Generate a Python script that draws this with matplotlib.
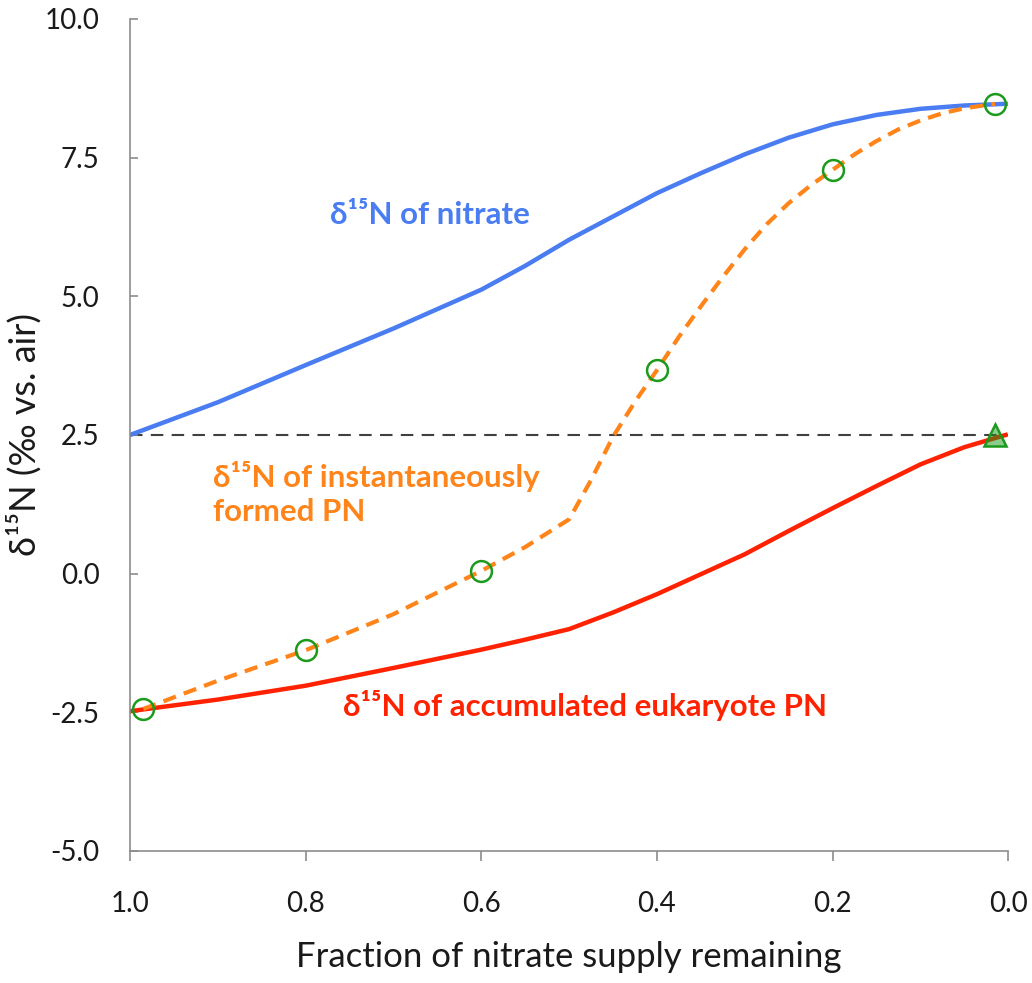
# -*- coding: utf-8 -*-

"""
δ15N 随剩余硝酸盐比例变化图
"""

import matplotlib
matplotlib.use('Agg')
import matplotlib.pyplot as plt
from matplotlib.ticker import FormatStrFormatter

matplotlib.rcParams['font.family'] = ['Lato', 'Open Sans', 'DejaVu Sans']
matplotlib.rcParams['axes.unicode_minus'] = False

# 硝酸盐 δ15N
nitrate_f = [1.0, 0.9, 0.8, 0.7, 0.6, 0.55, 0.5, 0.45, 0.4, 0.35, 0.3,
             0.25, 0.2, 0.15, 0.1, 0.05, 0.003]
nitrate_d = [2.5, 3.09, 3.76, 4.42, 5.12, 5.55, 6.02, 6.44, 6.86, 7.22, 7.56,
             7.86, 8.1, 8.27, 8.38, 8.44, 8.47]

# 瞬时生成 PN
inst_f = [0.985, 0.9, 0.8, 0.7, 0.6, 0.55, 0.5, 0.475, 0.45, 0.425, 0.4,
          0.375, 0.35, 0.325, 0.3, 0.275, 0.25, 0.225, 0.2,
          0.175, 0.15, 0.125, 0.1, 0.075, 0.05, 0.015]
inst_d = [-2.44, -1.93, -1.38, -0.73, 0.05, 0.48, 0.98, 1.69, 2.47, 3.1, 3.67,
          4.27, 4.82, 5.35, 5.85, 6.3, 6.68, 7.0, 7.28,
          7.56, 7.8, 8.01, 8.17, 8.3, 8.39, 8.47]

# 累积真核生物 PN
accum_f = [1.0, 0.9, 0.8, 0.7, 0.6, 0.55, 0.5, 0.45, 0.4, 0.35, 0.3,
           0.25, 0.2, 0.15, 0.1, 0.05, 0.003]
accum_d = [-2.48, -2.27, -2.02, -1.7, -1.37, -1.19, -1.0, -0.7, -0.37, -0.01, 0.35,
           0.77, 1.18, 1.58, 1.97, 2.28, 2.5]

# 样品点
sample_f = [0.985, 0.8, 0.6, 0.4, 0.2, 0.015]
sample_d = [-2.44, -1.38, 0.05, 3.67, 7.28, 8.47]
source_f = [0.015]
source_d = [2.5]

BLUE = '#4a7cf2'
ORANGE = '#ff8419'
RED = '#ff2200'
GREEN = '#1c9a1c'
GRAY = '#8c8c8c'


def main():
    fig = plt.figure(figsize=(10.32, 9.83), dpi=100)
    ax = fig.add_axes([0.126, 0.1343, 0.851, 0.8464])

    ax.axhline(2.5, color='#404040', lw=1.5, dashes=(6, 4), zorder=1)
    ax.plot(nitrate_f, nitrate_d, color=BLUE, lw=3.2, solid_joinstyle='round', zorder=2)
    ax.plot(accum_f, accum_d, color=RED, lw=3.2, solid_joinstyle='round', zorder=2)
    ax.plot(inst_f, inst_d, color=ORANGE, lw=3, dashes=(3.2, 2), zorder=3)
    ax.plot(sample_f, sample_d, 'o', ms=15, mfc='none', mec=GREEN, mew=1.8, zorder=4)
    ax.plot(source_f, source_d, '^', ms=16, mfc=(0.11, 0.6, 0.11, 0.5),
            mec=GREEN, mew=1.8, zorder=4)

    ax.set_xlim(1.0, 0.0)
    ax.set_ylim(-5, 10)
    ax.set_xticks([1.0, 0.8, 0.6, 0.4, 0.2, 0.0])
    ax.set_yticks([-5, -2.5, 0, 2.5, 5, 7.5, 10])
    ax.xaxis.set_major_formatter(FormatStrFormatter('%.1f'))
    ax.yaxis.set_major_formatter(FormatStrFormatter('%.1f'))

    for side in ['top', 'right']:
        ax.spines[side].set_visible(False)
    for side in ['left', 'bottom']:
        ax.spines[side].set_color(GRAY)
        ax.spines[side].set_linewidth(1.2)
    ax.tick_params(axis='y', direction='in', length=6, width=1.2, color=GRAY,
                   pad=22, labelsize=20, labelcolor='#1a1a1a')
    ax.tick_params(axis='x', direction='out', length=7, width=1.2, color=GRAY,
                   pad=22, labelsize=20, labelcolor='#1a1a1a')

    ax.set_xlabel('Fraction of nitrate supply remaining', fontsize=25,
                  labelpad=17, color='#1a1a1a')
    ax.set_ylabel('δ¹⁵N (‰ vs. air)', fontsize=26, labelpad=2, color='#1a1a1a')

    ax.text(0.772, 6.46, 'δ¹⁵N of nitrate', color=BLUE, fontsize=22.5,
            fontweight='bold', ha='left', va='center')
    ax.text(0.905, 1.45, 'δ¹⁵N of instantaneously\nformed PN', color=ORANGE,
            fontsize=22.5, fontweight='bold', ha='left', va='center',
            linespacing=1.25)
    ax.text(0.757, -2.37, 'δ¹⁵N of accumulated eukaryote PN', color=RED,
            fontsize=22.5, fontweight='bold', ha='left', va='center')

    plt.savefig('out.png', dpi=100)


if __name__ == '__main__':
    main()
